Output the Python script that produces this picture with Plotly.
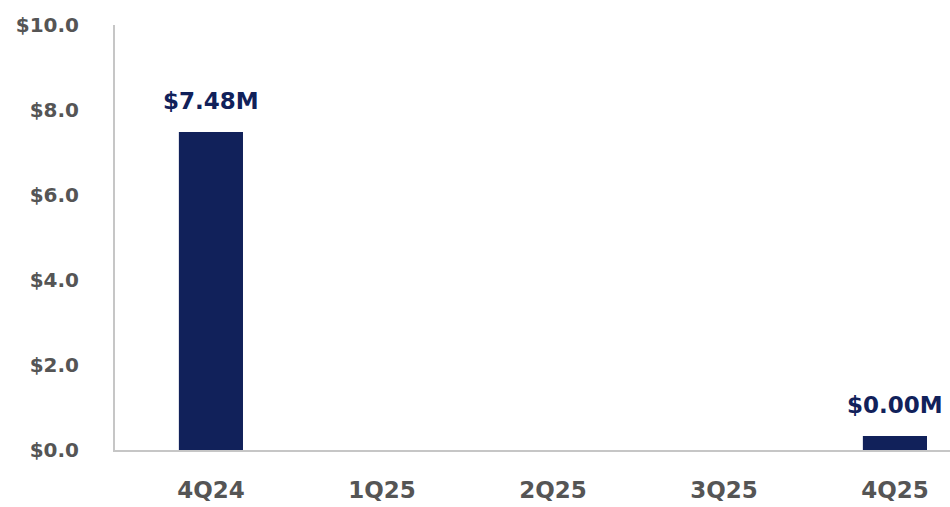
import plotly.graph_objects as go

quarters = ["4Q24", "1Q25", "2Q25", "3Q25", "4Q25"]
values = [7.48, 0, 0, 0, 0.33]
labels = ["$7.48M", None, None, None, "$0.00M"]
y_ticks = [0, 2, 4, 6, 8, 10]
y_tick_text = ["$0.0", "$2.0", "$4.0", "$6.0", "$8.0", "$10.0"]

navy = "#11215a"
gray_text = "#555555"
font_family = "DejaVu Sans"

fig = go.Figure()
fig.add_trace(go.Bar(
    x=quarters, y=values, marker=dict(color=navy, line=dict(width=0)),
    width=0.375, hoverinfo="skip",
))

for q, v, t in zip(quarters, values, labels):
    if t:
        fig.add_annotation(
            x=q, y=v, text=t, showarrow=False, yanchor="bottom", yshift=16,
            font=dict(family=font_family, size=23, color=navy, weight=700),
        )

fig.update_layout(
    width=950, height=507,
    margin=dict(l=115, r=0, t=25, b=57),
    paper_bgcolor="white", plot_bgcolor="white",
    showlegend=False,
    font=dict(family=font_family, color=gray_text),
    xaxis=dict(
        range=[-0.561, 4.322], showgrid=False, zeroline=False,
        showline=True, linecolor="#c6c6c6", linewidth=2,
        ticks="outside", ticklen=18, tickcolor="rgba(0,0,0,0)",
        tickfont=dict(family=font_family, size=23, color=gray_text, weight=700),
    ),
    yaxis=dict(
        range=[0, 10], tickvals=y_ticks, ticktext=y_tick_text,
        showgrid=False, zeroline=False,
        showline=True, linecolor="#c6c6c6", linewidth=2,
        ticks="outside", ticklen=30, tickcolor="rgba(0,0,0,0)",
        tickfont=dict(family=font_family, size=20, color=gray_text, weight=700),
    ),
)

fig.write_html("out.html")
